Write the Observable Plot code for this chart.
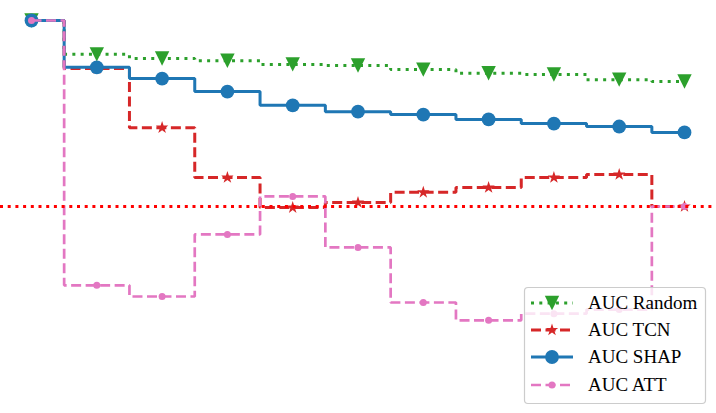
<!DOCTYPE html>
<html>
<head>
<meta charset="utf-8">
<script src="https://cdn.jsdelivr.net/npm/d3@7"></script>
<script src="https://cdn.jsdelivr.net/npm/@observablehq/plot@0.6"></script>
<style>
  html, body { margin: 0; padding: 0; background: #fff; }
  #wrap { position: relative; width: 716px; height: 413px; overflow: hidden; }
  #legend { position: absolute; left: 0; top: 0; pointer-events: none; }
</style>
</head>
<body>
<div id="wrap"></div>
<script>
// ---- data ----
const steps = [0, 1, 2, 3, 4, 5, 6, 7, 8, 9, 10];
const aucRandom = [1.000, 0.909, 0.898, 0.892, 0.882, 0.879, 0.868, 0.858, 0.855, 0.841, 0.836];
const aucTCN    = [1.000, 0.871, 0.712, 0.578, 0.497, 0.511, 0.538, 0.551, 0.578, 0.586, 0.500];
const aucSHAP   = [1.000, 0.874, 0.844, 0.809, 0.772, 0.755, 0.747, 0.734, 0.723, 0.715, 0.699];
const aucATT    = [1.000, 0.288, 0.258, 0.425, 0.527, 0.390, 0.242, 0.194, 0.212, 0.223, 0.500];
const baseline = [0.5];
const seriesNames = ["AUC Random", "AUC TCN", "AUC SHAP", "AUC ATT"];

// downward triangle centred on its bounding box (like matplotlib "v")
const triangleDown = {
  draw(ctx, size) {
    const s = Math.sqrt(size / Math.PI);
    ctx.moveTo(-s, -s);
    ctx.lineTo(s, -s);
    ctx.lineTo(0, s);
    ctx.closePath();
  }
};

// ---- styles ----
const styles = {
  "AUC Random": {values: aucRandom, color: "#2ca02c", dash: "3,5.3", width: 3, symbol: triangleDown, r: 7.2},
  "AUC TCN":    {values: aucTCN,    color: "#d62728", dash: "10,4.5", width: 3, symbol: d3.symbolStar, r: 3.9},
  "AUC SHAP":   {values: aucSHAP,   color: "#1f77b4", dash: null, width: 3, symbol: d3.symbolCircle, r: 6.9},
  "AUC ATT":    {values: aucATT,    color: "#e377c2", dash: "10,4.5", width: 2.7, symbol: d3.symbolCircle, r: 3.5}
};

const marks = [];
for (const name of seriesNames) {
  const s = styles[name];
  const data = steps.map((x, i) => ({x, y: s.values[i]}));
  marks.push(Plot.line(data, {
    x: "x", y: "y", curve: "step", stroke: s.color, strokeWidth: s.width,
    strokeDasharray: s.dash ?? undefined, strokeLinejoin: "miter", strokeLinecap: "butt"
  }));
  marks.push(Plot.dot(data, {
    x: "x", y: "y", symbol: s.symbol, r: s.r, fill: s.color, stroke: "none"
  }));
}
marks.push(Plot.ruleY(baseline, {stroke: "#ff0000", strokeWidth: 3, strokeDasharray: "3,4.7"}));

const chart = Plot.plot({
  width: 716, height: 413,
  marginLeft: 0, marginRight: 0, marginTop: 0, marginBottom: 0,
  x: {domain: [0, 10], range: [31, 684], axis: null},
  y: {domain: [0.5, 1], range: [206, 20], axis: null},
  style: {background: "#fff", overflow: "visible"},
  marks
});
document.getElementById("wrap").appendChild(chart);

// ---- legend overlay ----
const lg = d3.select("#wrap").append("svg")
  .attr("id", "legend").attr("width", 716).attr("height", 413);
lg.append("rect")
  .attr("x", 524.5).attr("y", 287.5).attr("width", 181).attr("height", 116)
  .attr("rx", 3.5).attr("fill", "rgba(255,255,255,0.8)")
  .attr("stroke", "#cccccc").attr("stroke-width", 1.2);
const rowY = [303, 330, 357, 385];
seriesNames.forEach((name, i) => {
  const s = styles[name];
  const y = rowY[i];
  lg.append("line").attr("x1", 531).attr("x2", 573).attr("y1", y).attr("y2", y)
    .attr("stroke", s.color).attr("stroke-width", s.width)
    .attr("stroke-dasharray", s.dash);
  lg.append("path")
    .attr("d", d3.symbol(s.symbol, Math.PI * s.r * s.r)())
    .attr("transform", `translate(552,${y})`)
    .attr("fill", s.color);
  lg.append("text").attr("x", 588).attr("y", y + 6.4)
    .attr("font-family", "'Liberation Serif', 'Times New Roman', serif")
    .attr("font-size", 19).attr("fill", "#000")
    .text(name);
});
</script>
</body>
</html>
